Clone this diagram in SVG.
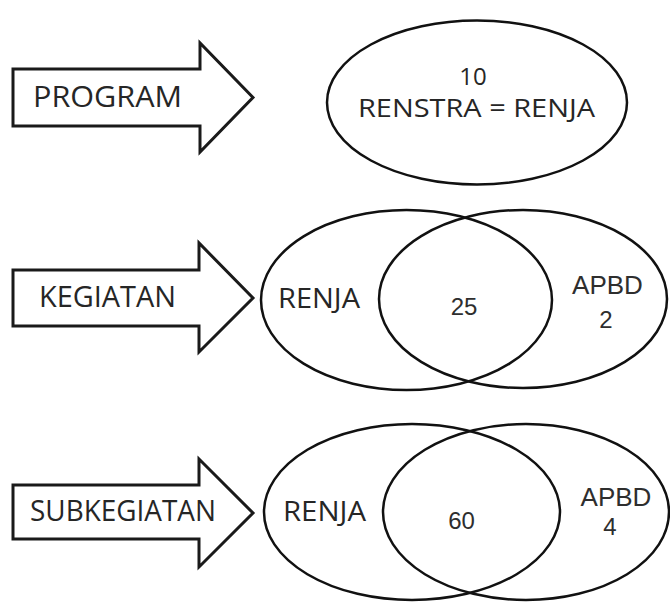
<svg xmlns="http://www.w3.org/2000/svg" width="670" height="603" viewBox="0 0 670 603">
  <style>
    .arrow { fill: #ffffff; stroke: #1a1a1a; stroke-width: 3; stroke-linejoin: miter; }
    .set { fill: none; stroke: #111111; stroke-width: 2.5; }
    .lbl { font-family: "Open Sans", "Liberation Sans", sans-serif; fill: #262626; }
    .num { font-family: "Liberation Sans", Arial, sans-serif; fill: #2e2e2e; }
  </style>
  <rect width="670" height="603" fill="#ffffff"/>

  <!-- Level 1: programs -->
  <g id="arrow-program">
    <path class="arrow" d="M13,69 H200 V43 L253,97.5 L200,152 V126 H13 Z"/>
    <text class="lbl" x="33" y="107" font-size="30" textLength="149" lengthAdjust="spacingAndGlyphs">PROGRAM</text>
  </g>
  <g id="set-program">
    <ellipse class="set" cx="477" cy="102.5" rx="150" ry="82"/>
    <text class="lbl" x="473" y="85" font-size="24" text-anchor="middle">10</text>
    <text class="lbl" x="358" y="117" font-size="26" textLength="237" lengthAdjust="spacingAndGlyphs">RENSTRA = RENJA</text>
  </g>

  <!-- Level 2: activities -->
  <g id="arrow-kegiatan">
    <path class="arrow" d="M13,270 H199 V243 L253,298 L199,352 V326 H13 Z"/>
    <text class="lbl" x="39" y="307" font-size="30" textLength="137" lengthAdjust="spacingAndGlyphs">KEGIATAN</text>
  </g>
  <g id="set-kegiatan-renja">
    <ellipse class="set" cx="406.5" cy="300" rx="145.5" ry="90"/>
    <text class="lbl" x="278" y="308" font-size="28" textLength="82" lengthAdjust="spacingAndGlyphs">RENJA</text>
  </g>
  <g id="set-kegiatan-apbd">
    <ellipse class="set" cx="523" cy="299" rx="144" ry="89"/>
    <text class="num" x="607.5" y="294" font-size="26" text-anchor="middle">APBD</text>
    <text class="num" x="606" y="328" font-size="24" text-anchor="middle">2</text>
  </g>
  <g id="overlap-kegiatan">
    <text class="num" x="464" y="315" font-size="24" text-anchor="middle">25</text>
  </g>

  <!-- Level 3: sub-activities -->
  <g id="arrow-subkegiatan">
    <path class="arrow" d="M13,485 H199 V459 L253,513 L199,567 V539 H13 Z"/>
    <text class="lbl" x="30" y="521" font-size="30" textLength="186" lengthAdjust="spacingAndGlyphs">SUBKEGIATAN</text>
  </g>
  <g id="set-subkegiatan-renja">
    <ellipse class="set" cx="412" cy="512" rx="148" ry="88"/>
    <text class="lbl" x="283" y="521" font-size="28" textLength="83" lengthAdjust="spacingAndGlyphs">RENJA</text>
  </g>
  <g id="set-subkegiatan-apbd">
    <ellipse class="set" cx="526" cy="512" rx="143" ry="88"/>
    <text class="num" x="616" y="506" font-size="26" text-anchor="middle">APBD</text>
    <text class="num" x="610" y="535" font-size="24" text-anchor="middle">4</text>
  </g>
  <g id="overlap-subkegiatan">
    <text class="num" x="461.5" y="529" font-size="24" text-anchor="middle" fill="#444444">60</text>
  </g>
</svg>
